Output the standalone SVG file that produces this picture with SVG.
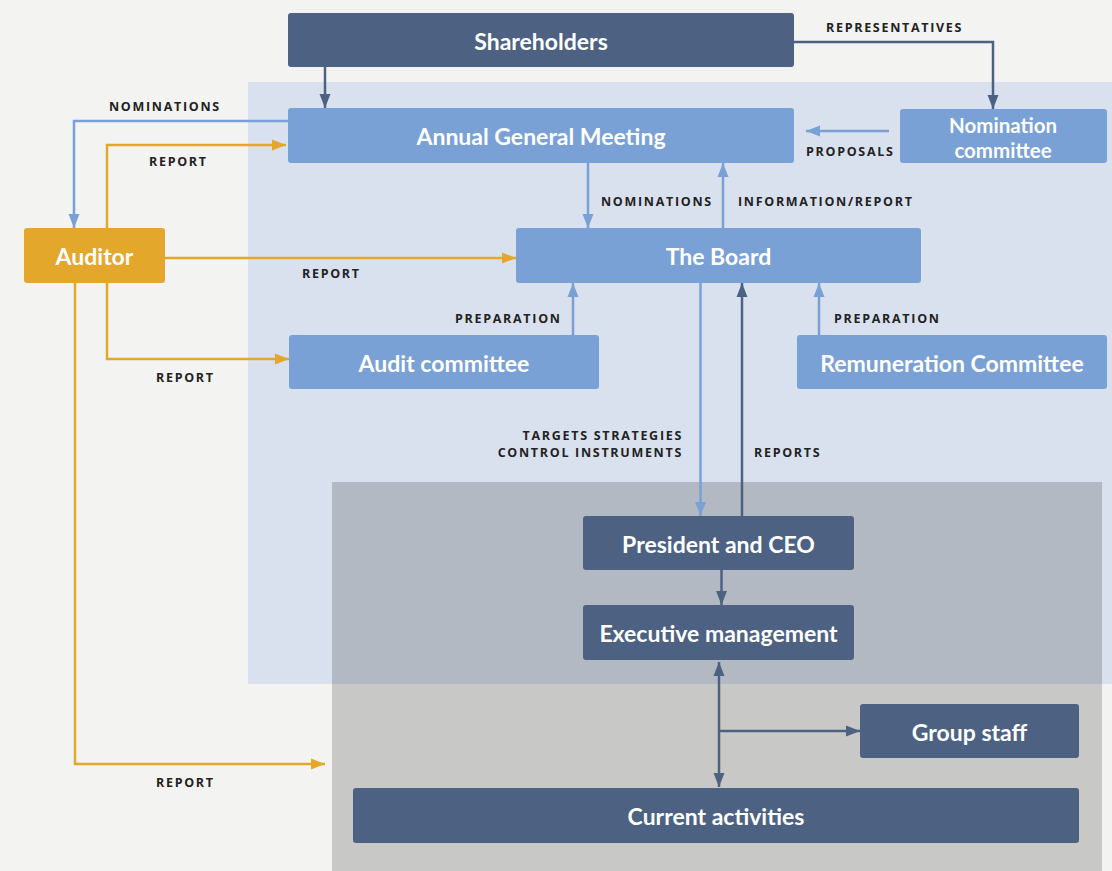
<svg xmlns="http://www.w3.org/2000/svg" width="1112" height="871" viewBox="0 0 1112 871">
<style>
.dark{fill:#4d6282}
.light{fill:#79a1d5}
.gold{fill:#e3a72c}
.nt{font-family:Lato,"Open Sans",sans-serif;font-weight:700;font-size:23px;fill:#ffffff;text-anchor:middle}
.nt2{font-size:20.5px}
.lb{font-family:"Open Sans","Liberation Sans",sans-serif;font-weight:700;font-size:12.5px;letter-spacing:1.7px;fill:#222222}
.end{text-anchor:end}
.c{fill:none;stroke-width:2.5}
.cd{stroke:#4d6282}
.cl{stroke:#79a1d5}
.co{stroke:#e3a72c}
</style>
<defs>
<marker id="ad" markerUnits="userSpaceOnUse" markerWidth="14" markerHeight="12" refX="14" refY="6" orient="auto-start-reverse"><path d="M0,0.5 L14,6 L0,11.5 z" fill="#4d6282"/></marker>
<marker id="al" markerUnits="userSpaceOnUse" markerWidth="14" markerHeight="12" refX="14" refY="6" orient="auto"><path d="M0,0.5 L14,6 L0,11.5 z" fill="#79a1d5"/></marker>
<marker id="ao" markerUnits="userSpaceOnUse" markerWidth="14" markerHeight="12" refX="14" refY="6" orient="auto"><path d="M0,0.5 L14,6 L0,11.5 z" fill="#e3a72c"/></marker>
</defs>
<rect width="1112" height="871" fill="#f3f3f2"/>
<g id="regions">
<rect x="248" y="82" width="864" height="602" fill="#dae1ee"/>
<rect x="332" y="482" width="770" height="389" fill="#c8c8c6"/>
<rect x="332" y="482" width="770" height="202" fill="#b2b9c3"/>
</g>
<g id="connectors">
<path class="c cd" d="M325,67 V108" marker-end="url(#ad)"/>
<path class="c cd" d="M794,42 H993 V109" marker-end="url(#ad)"/>
<path class="c cl" d="M889,131 H806" marker-end="url(#al)"/>
<path class="c cl" d="M288,121 H74 V228" marker-end="url(#al)"/>
<path class="c co" d="M107,228 V145 H286" marker-end="url(#ao)"/>
<path class="c co" d="M165,258 H516" marker-end="url(#ao)"/>
<path class="c co" d="M107,283 V359 H289" marker-end="url(#ao)"/>
<path class="c co" d="M75,283 V764 H325" marker-end="url(#ao)"/>
<path class="c cl" d="M588,163 V228" marker-end="url(#al)"/>
<path class="c cl" d="M723,228 V163" marker-end="url(#al)"/>
<path class="c cl" d="M573,335 V283" marker-end="url(#al)"/>
<path class="c cl" d="M819,335 V283" marker-end="url(#al)"/>
<path class="c cl" d="M700.5,283 V516" marker-end="url(#al)"/>
<path class="c cd" d="M742,516 V283" marker-end="url(#ad)"/>
<path class="c cd" d="M721.5,570 V605" marker-end="url(#ad)"/>
<path class="c cd" d="M719,662 V787" marker-start="url(#ad)" marker-end="url(#ad)"/>
<path class="c cd" d="M719,731 H860" marker-end="url(#ad)"/>
</g>
<g id="labels">
<text class="lb" x="826" y="32">REPRESENTATIVES</text>
<text class="lb" x="109" y="111">NOMINATIONS</text>
<text class="lb" x="149" y="166">REPORT</text>
<text class="lb" x="806" y="156">PROPOSALS</text>
<text class="lb" x="601" y="206">NOMINATIONS</text>
<text class="lb" x="738" y="206">INFORMATION/REPORT</text>
<text class="lb" x="302" y="278">REPORT</text>
<text class="lb" x="455" y="323">PREPARATION</text>
<text class="lb" x="834" y="323">PREPARATION</text>
<text class="lb" x="156" y="382">REPORT</text>
<text class="lb end" x="683" y="440">TARGETS STRATEGIES</text>
<text class="lb end" x="683" y="457">CONTROL INSTRUMENTS</text>
<text class="lb" x="754" y="457">REPORTS</text>
<text class="lb" x="156" y="787">REPORT</text>
</g>
<g id="shareholders"><rect class="dark" x="288" y="13" width="506" height="54" rx="3"/><text class="nt" x="541" y="49.5">Shareholders</text></g>
<g id="agm"><rect class="light" x="288" y="108" width="506" height="55" rx="3"/><text class="nt" x="541" y="145">Annual General Meeting</text></g>
<g id="nomination"><rect class="light" x="900" y="109" width="207" height="54" rx="3"/><text class="nt nt2" x="1003" y="133">Nomination</text><text class="nt nt2" x="1003" y="158">committee</text></g>
<g id="auditor"><rect class="gold" x="24" y="228" width="141" height="55" rx="3"/><text class="nt" x="94.5" y="265">Auditor</text></g>
<g id="board"><rect class="light" x="516" y="228" width="405" height="55" rx="3"/><text class="nt" x="718.5" y="265">The Board</text></g>
<g id="audit"><rect class="light" x="289" y="335" width="310" height="54" rx="3"/><text class="nt" x="444" y="371.5">Audit committee</text></g>
<g id="remuneration"><rect class="light" x="797" y="335" width="310" height="54" rx="3"/><text class="nt" x="952" y="371.5">Remuneration Committee</text></g>
<g id="ceo"><rect class="dark" x="583" y="516" width="271" height="54" rx="3"/><text class="nt" x="718.5" y="552.5">President and CEO</text></g>
<g id="exec"><rect class="dark" x="583" y="605" width="271" height="55" rx="3"/><text class="nt" x="718.5" y="642">Executive management</text></g>
<g id="groupstaff"><rect class="dark" x="860" y="704" width="219" height="54" rx="3"/><text class="nt" x="969.5" y="740.5">Group staff</text></g>
<g id="current"><rect class="dark" x="353" y="788" width="726" height="55" rx="3"/><text class="nt" x="716" y="825">Current activities</text></g>
</svg>
